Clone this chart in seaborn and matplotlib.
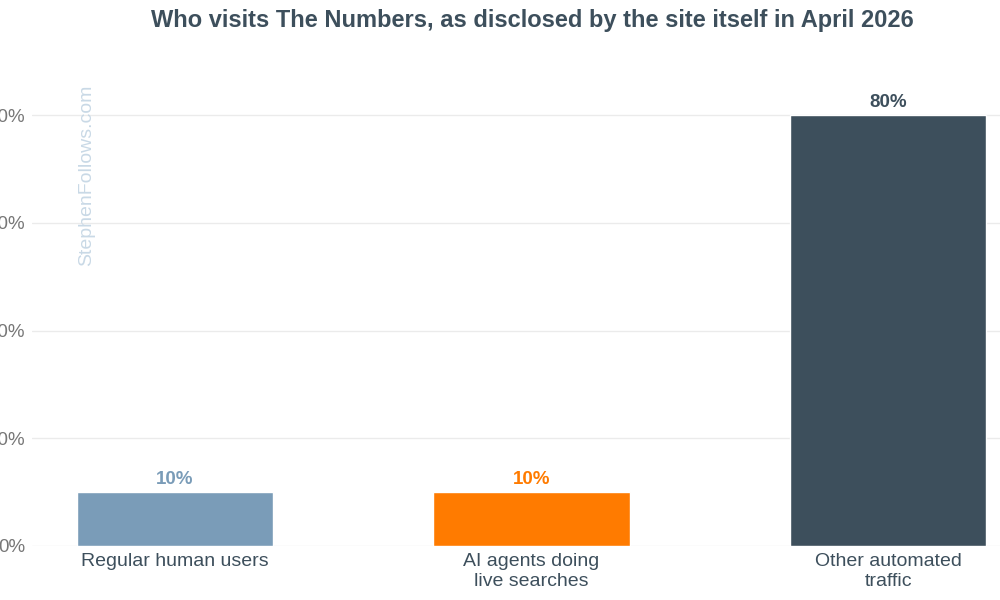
import matplotlib
matplotlib.use("Agg")
import matplotlib.pyplot as plt
import seaborn as sns
import pandas as pd

# data
categorias = ["Regular human users", "AI agents doing\nlive searches", "Other automated\ntraffic"]
percentuais = [10, 10, 80]
cores = ["#7a9cb8", "#ff7b00", "#3d4f5c"]
ticks_y = [0, 20, 40, 60, 80]

sns.set_theme(style="white")
plt.rcParams['font.family'] = ['Liberation Sans', 'DejaVu Sans']

df = pd.DataFrame({"categoria": categorias, "valor": percentuais})

fig = plt.figure(figsize=(10, 6), dpi=100)
ax = fig.add_axes([0.032, 0.09, 0.968, 0.808])

sns.barplot(data=df, x="categoria", y="valor", hue="categoria", palette=cores,
            width=0.55, saturation=1, legend=False, ax=ax)

ax.set_xlim(-0.401, 2.314)
ax.set_ylim(0, 90)
ax.set_yticks(ticks_y)
ax.set_yticklabels([f"{t}%" for t in ticks_y], color="#777777", fontsize=13.5)
ax.tick_params(axis="y", length=0, pad=5)
ax.tick_params(axis="x", length=0, pad=5, labelsize=14, labelcolor="#3d4f5c")
ax.yaxis.grid(True, color="#ebebeb", linewidth=1)
ax.set_axisbelow(True)
for s in ax.spines.values():
    s.set_visible(False)
ax.set_xlabel("")
ax.set_ylabel("")

# rótulos de valor acima das barras
for i, (v, c) in enumerate(zip(percentuais, cores)):
    ax.annotate(f"{v}%", (i, v), xytext=(0, 3), textcoords="offset points",
                ha="center", va="bottom", fontsize=13.5, fontweight="bold", color=c)

fig.text(0.087, 0.708, "StephenFollows.com", rotation=90, ha="center", va="center",
         fontsize=14, color="#c9d9e6")

fig.suptitle("Who visits The Numbers, as disclosed by the site itself in April 2026",
             x=0.532, y=0.965, ha="center", va="center", fontsize=17,
             fontweight="bold", color="#3d4f5c")

fig.savefig("out.png", dpi=100, facecolor="white")
